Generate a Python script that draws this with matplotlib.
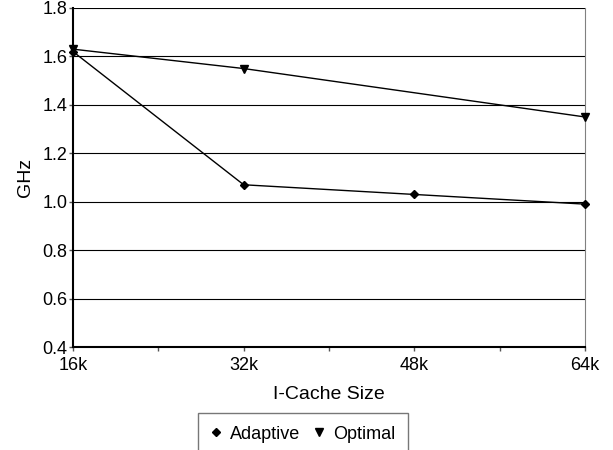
import matplotlib
matplotlib.use("Agg")
import matplotlib.pyplot as plt
from matplotlib.lines import Line2D

plt.rcParams["font.family"] = ["Liberation Sans", "DejaVu Sans"]

cache_kb = [16, 32, 48, 64]
tick_labels = ["16k", "32k", "48k", "64k"]

adaptive_x = [16, 32, 48, 64]
adaptive_ghz = [1.62, 1.07, 1.03, 0.99]

optimal_x = [16, 32, 64]
optimal_ghz = [1.63, 1.55, 1.35]

fig = plt.figure(figsize=(6.13, 4.5), dpi=100)
ax = fig.add_axes([73 / 613, 1 - 347 / 450, (585 - 73) / 613, (347 - 8) / 450])

for yv in [0.6, 0.8, 1.0, 1.2, 1.4, 1.6, 1.8]:
    ax.axhline(yv, color="black", lw=0.8, zorder=1)

ax.plot(adaptive_x, adaptive_ghz, color="black", lw=1.0, marker="D",
        markersize=4.5, zorder=3, clip_on=False)
ax.plot(optimal_x, optimal_ghz, color="black", lw=1.0, marker="v",
        markersize=6, zorder=3, clip_on=False)

ax.set_xlim(16, 64)
ax.set_ylim(0.4, 1.8)
ax.set_xticks([16, 24, 32, 40, 48, 56, 64])
ax.set_xticklabels(["16k", "", "32k", "", "48k", "", "64k"])
ax.set_yticks([0.4, 0.6, 0.8, 1.0, 1.2, 1.4, 1.6, 1.8])
ax.set_yticklabels(["0.4", "0.6", "0.8", "1.0", "1.2", "1.4", "1.6", "1.8"])
ax.tick_params(axis="both", labelsize=13, length=3, width=1, color="#555555")
ax.tick_params(axis="y", pad=1)
ax.tick_params(axis="x", pad=4)

ax.spines["left"].set_linewidth(1.5)
ax.spines["bottom"].set_linewidth(1.5)
ax.spines["right"].set_color("#808080")
ax.spines["top"].set_visible(False)

ax.set_xlabel("I-Cache Size", fontsize=14, labelpad=9)
ax.set_ylabel("GHz", fontsize=14, labelpad=6)

handles = [
    Line2D([], [], color="black", marker="D", markersize=4, linestyle="none"),
    Line2D([], [], color="black", marker="v", markersize=6, linestyle="none"),
]
leg = fig.legend(handles, ["Adaptive", "Optimal"], loc="upper center",
                 bbox_to_anchor=(303 / 613, 1 - 413 / 450), ncol=2, fontsize=13,
                 frameon=True, fancybox=False, edgecolor="#555555",
                 handlelength=0.6, handletextpad=0.5, columnspacing=0.7,
                 borderpad=0.7, borderaxespad=0)
leg.get_frame().set_linewidth(1.0)

fig.savefig("out.png", dpi=100)
